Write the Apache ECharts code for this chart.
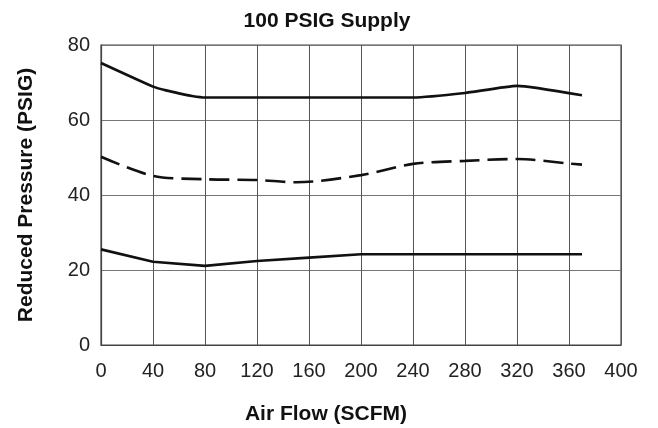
<!DOCTYPE html>
<html>
<head>
<meta charset="utf-8">
<script src="https://cdn.jsdelivr.net/npm/echarts@6/dist/echarts.min.js"></script>
<style>html,body{margin:0;padding:0;background:#fff}#c{width:658px;height:428px}</style>
</head>
<body>
<div id="c"></div>
<script>
const xTicks = [0, 40, 80, 120, 160, 200, 240, 280, 320, 360, 400];
const yTicks = [0, 20, 40, 60, 80];
const topFlow = [0, 40, 50, 60, 70, 80, 160, 240, 280, 320, 370];
const topPressure = [75.2, 68.9, 67.9, 67.1, 66.4, 66.0, 66.0, 66.0, 67.2, 69.1, 66.6];
const midFlow = [0, 40, 80, 120, 150, 200, 240, 280, 320, 360, 370];
const midPressure = [50.2, 45.1, 44.2, 44.0, 43.4, 45.3, 48.3, 49.1, 49.6, 48.4, 48.1];
const lowFlow = [0, 40, 80, 120, 160, 200, 280, 370];
const lowPressure = [25.5, 22.2, 21.1, 22.4, 23.3, 24.2, 24.2, 24.2];

const pair = (xs, ys) => xs.map((x, i) => [x, ys[i]]);
const font = 'Liberation Sans, Arial, sans-serif';
const chart = echarts.init(document.getElementById('c'), null, {renderer: 'canvas'});
const lineStyleBase = {color: '#111', width: 2.6};
const nameStyle = {fontFamily: font, fontSize: 21, fontWeight: 'bold', color: '#111'};
chart.setOption({
  animation: false,
  backgroundColor: '#fff',
  title: [
    {text: '100 PSIG Supply', left: 322, top: 6, textAlign: 'center', textStyle: nameStyle},
    {text: 'Air Flow (SCFM)', left: 321, top: 399, textAlign: 'center', textStyle: nameStyle}
  ],
  grid: {left: 101, right: 37, top: 45, bottom: 83, show: true, borderColor: '#444', borderWidth: 1.2},
  xAxis: {
    type: 'value', min: 0, max: 400, interval: 40,
    axisLine: {show: true, lineStyle: {color: '#444', width: 1.2}},
    axisTick: {show: false},
    axisLabel: {fontFamily: font, fontSize: 20, color: '#222', margin: 16,
      formatter: v => xTicks.includes(v) ? String(v) : ''},
    splitLine: {show: true, lineStyle: {color: '#555', width: 1}}
  },
  yAxis: {
    type: 'value', min: 0, max: 80, interval: 20,
    name: 'Reduced Pressure (PSIG)', nameLocation: 'middle', nameGap: 64, nameRotate: 90,
    nameTextStyle: nameStyle,
    axisLine: {show: true, lineStyle: {color: '#444', width: 1.2}},
    axisTick: {show: false},
    axisLabel: {fontFamily: font, fontSize: 20, color: '#222', margin: 11,
      formatter: v => yTicks.includes(v) ? String(v) : ''},
    splitLine: {show: true, lineStyle: {color: '#777', width: 1}}
  },
  series: [
    {type: 'line', data: pair(topFlow, topPressure), smooth: 0.15, symbol: 'none',
      lineStyle: Object.assign({}, lineStyleBase)},
    {type: 'line', data: pair(midFlow, midPressure), smooth: 0.3, symbol: 'none',
      lineStyle: Object.assign({}, lineStyleBase, {type: [20, 8]})},
    {type: 'line', data: pair(lowFlow, lowPressure), smooth: false, symbol: 'none',
      lineStyle: Object.assign({}, lineStyleBase)}
  ]
});
</script>
</body>
</html>
